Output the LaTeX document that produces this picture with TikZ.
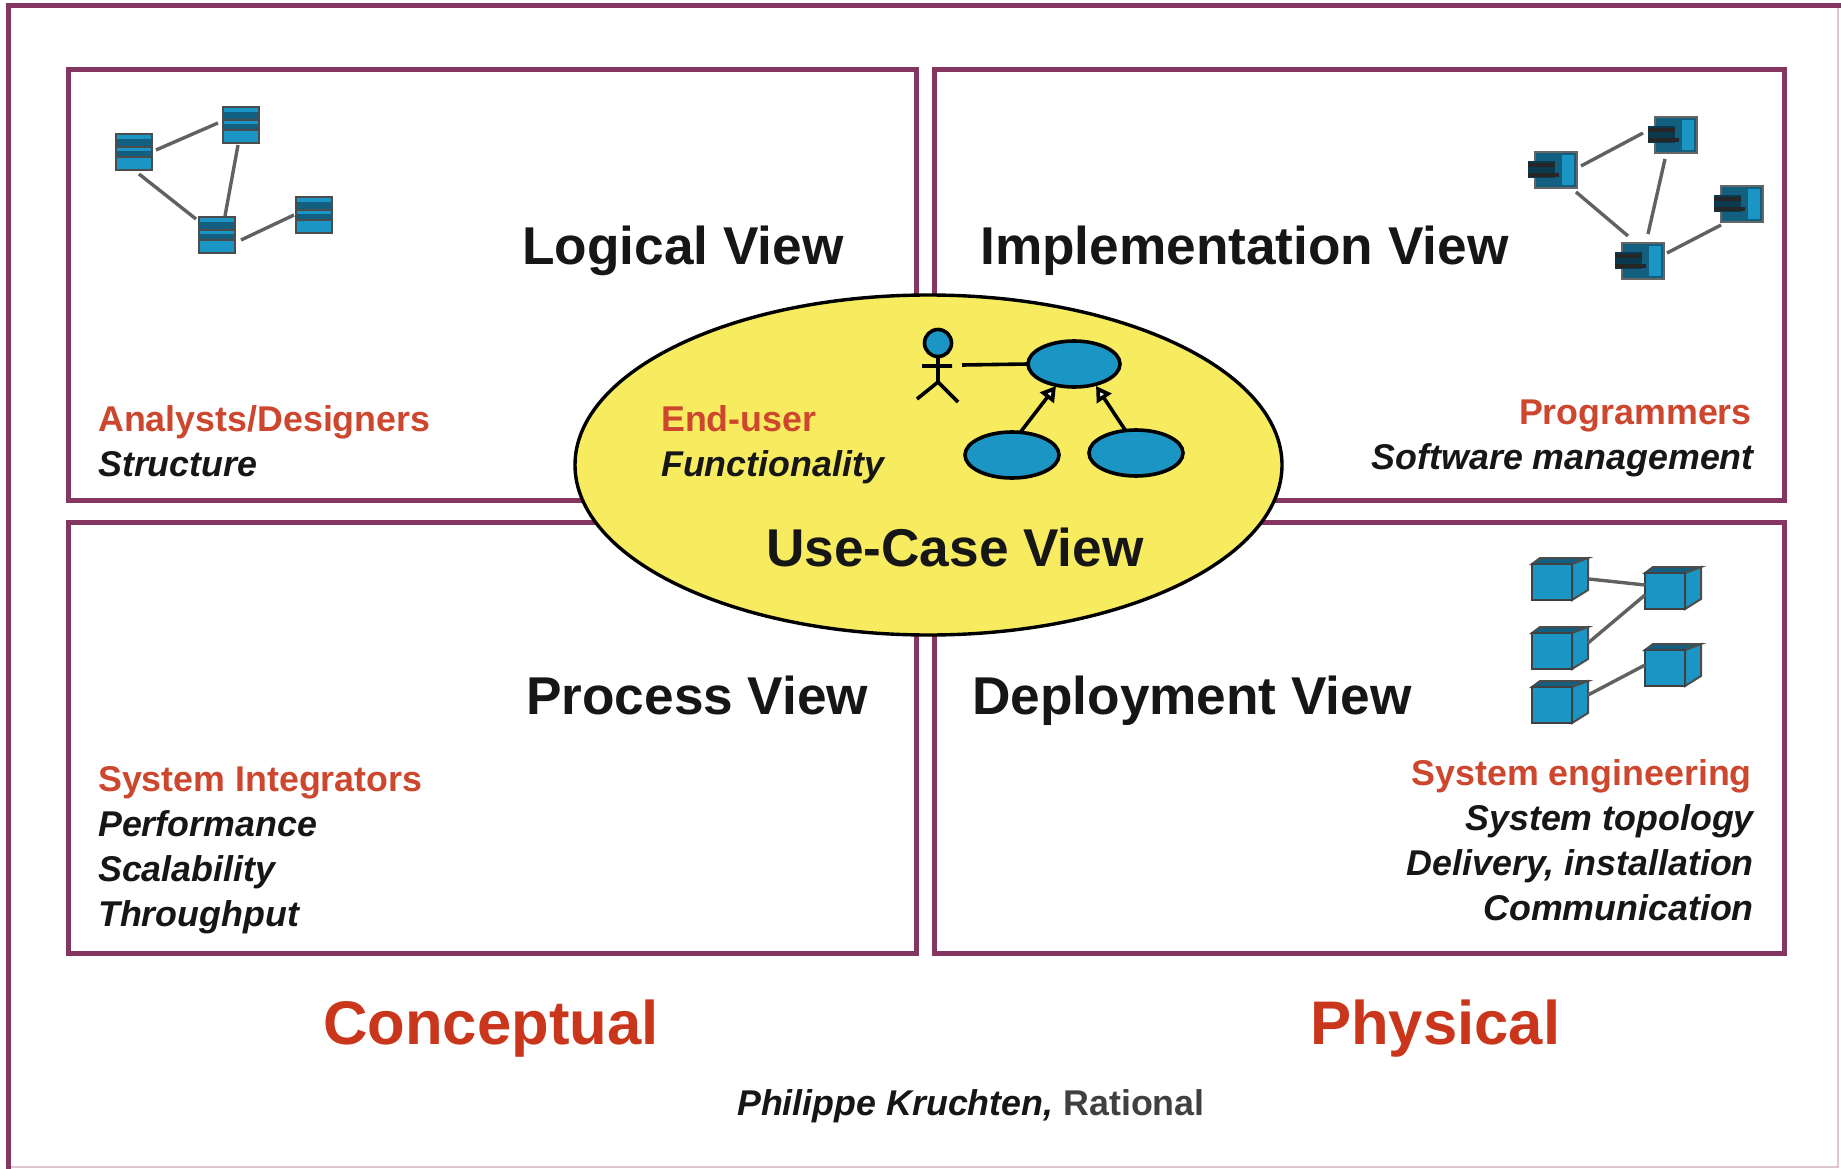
\documentclass[tikz,border=0pt]{standalone}
\usepackage{fontspec}
\setmainfont{Liberation Sans}
\usetikzlibrary{arrows.meta,calc,shapes.geometric}
\definecolor{frame}{HTML}{843560}
\definecolor{icon}{HTML}{1B95C3}
\definecolor{icond}{HTML}{125F80}
\definecolor{hot}{HTML}{C9361C}
\definecolor{lemon}{HTML}{F7EB60}
\definecolor{ink}{HTML}{161616}
\tikzset{
  x=1pt,y=-1pt,
  viewbox/.style={draw=frame,line width=5pt,fill=white},
  viewtitle/.style={anchor=base west,inner sep=0pt,font=\bfseries\fontsize{53.2}{60}\selectfont,text=ink},
  who/.style={anchor=base west,inner sep=0pt,font=\bfseries\fontsize{35.8}{40}\selectfont,text=hot!92!white},
  whor/.style={who,anchor=base east},
  what/.style={anchor=base west,inner sep=0pt,font=\bfseries\itshape\fontsize{35.8}{40}\selectfont,text=ink},
  whatr/.style={what,anchor=base east},
  big/.style={anchor=base west,inner sep=0pt,font=\bfseries\fontsize{61.6}{70}\selectfont,text=hot},
  link/.style={draw=black!62,line width=3.4pt},
  classbox/.style={draw=black!70,line width=2.5pt,fill=icon,minimum width=36pt,minimum height=36pt,inner sep=0pt,outer sep=0pt},
  compbox/.style={draw=black!60,line width=2pt,fill=icond,minimum width=42pt,minimum height=36pt,inner sep=0pt,outer sep=0pt},
  ucase/.style={draw=black,line width=3.6pt,fill=icon,ellipse,inner sep=0pt,outer sep=0pt},
  uml/.style={draw=black,line width=3.6pt},
  genarrow/.style={uml,-{Triangle[open,fill=white,length=15pt,width=17pt,line width=5pt]}},
}
\newcommand{\classicon}[3]{%
  \node[classbox] (#1) at (#2,#3) {};
  \fill[icond] ($(#1.north west)+(1,5)$) rectangle ($(#1.north east)+(-1,12)$);
  \fill[icond] ($(#1.north west)+(1,17)$) rectangle ($(#1.north east)+(-1,23)$);
  \draw[black!70,line width=1.4pt] ($(#1.west)+(0,-5)$) -- ($(#1.east)+(0,-5)$);
  \draw[black!70,line width=1.4pt] ($(#1.west)+(0,5)$) -- ($(#1.east)+(0,5)$);
}
\newcommand{\compicon}[3]{%
  \node[compbox] (#1) at (#2,#3) {};
  \fill[icon] ($(#1.north east)+(-15,3)$) rectangle ($(#1.south east)+(-3,-3)$);
  \fill[icond!60!black] ($(#1.west)+(-7,-9)$) rectangle ($(#1.west)+(20,8)$);
  \fill[black!85] ($(#1.west)+(-7,-7)$) rectangle ($(#1.west)+(20,-3)$);
  \fill[black!85] ($(#1.west)+(-7,3)$) rectangle ($(#1.west)+(24,7)$);
}
\newcommand{\cubeicon}[3]{%
  \node[inner sep=0pt,outer sep=0pt,minimum width=40pt,minimum height=36pt] (#1) at (#2,#3) {};
  \filldraw[draw=black!70,line width=2pt,fill=icond] (#1.north west) -- ++(8,-6) -- ($(#1.north east)+(16,-6)$) -- (#1.north east) -- cycle;
  \filldraw[draw=black!70,line width=2pt,fill=icon] (#1.north east) -- ($(#1.north east)+(16,-6)$) -- ($(#1.south east)+(16,-10)$) -- (#1.south east) -- cycle;
  \filldraw[draw=black!75,line width=2.4pt,fill=icon] (#1.south west) rectangle (#1.north east);
}
\begin{document}
\begin{tikzpicture}
\useasboundingbox (0,0) rectangle (1841,1169);
\fill[white] (0,0) rectangle (1841,1169);
% outer frame
\draw[frame!28,line width=2pt] (1838,4) -- (1838,1167) -- (8,1167);
\draw[frame,line width=5pt] (1841,6) -- (8,6) -- (8,1169);
% view boxes
\node[viewbox,minimum width=848pt,minimum height=430pt,inner sep=0pt] (lv) at (492,285) {};
\node[viewbox,minimum width=850pt,minimum height=430pt,inner sep=0pt] (iv) at (1359,285) {};
\node[viewbox,minimum width=848pt,minimum height=431pt,inner sep=0pt] (pv) at (492,738) {};
\node[viewbox,minimum width=850pt,minimum height=431pt,inner sep=0pt] (dv) at (1359,738) {};
% central ellipse
\node[ellipse,draw=black,line width=3.4pt,fill=lemon,minimum width=707pt,minimum height=340pt,inner sep=0pt] (uc) at (928.5,465) {};
% logical icons
\classicon{la}{134}{152}
\classicon{lb}{241}{125}
\classicon{lc}{217}{235}
\classicon{ld}{314}{215}
\draw[link] ($(la)+(22,-2)$) -- ($(lb)+(-23,-2)$);
\draw[link] ($(la)+(5,22)$) -- ($(lc)+(-21,-16)$);
\draw[link] ($(lb)+(-3,20)$) -- ($(lc)+(8,-19)$);
\draw[link] ($(lc)+(24,5)$) -- ($(ld)+(-20,0)$);
% implementation icons
\compicon{ia}{1556}{170}
\compicon{ib}{1676}{135}
\compicon{ic}{1643}{261}
\compicon{id}{1742}{204}
\draw[link] ($(ia)+(25,-4)$) -- ($(ib)+(-33,-2)$);
\draw[link] ($(ia)+(20,22)$) -- ($(ic)+(-15,-25)$);
\draw[link] ($(ib)+(-11,24)$) -- ($(ic)+(5,-27)$);
\draw[link] ($(ic)+(24,-8)$) -- ($(id)+(-21,21)$);
% deployment icons
\cubeicon{da}{1552}{582}
\cubeicon{db}{1665}{591}
\cubeicon{dc}{1552}{651}
\cubeicon{dd}{1552}{705}
\cubeicon{de}{1665}{668}
\draw[link] ($(da.east)+(17,-3)$) -- ($(db.west)+(0,-6)$);
\draw[link] ($(dc.east)+(16,-8)$) -- ($(db.west)+(0,4)$);
\draw[link] ($(dd.east)+(16,-10)$) -- ($(de.west)+(0,-3)$);
% use-case icons
\node[ucase,minimum width=92pt,minimum height=46pt] (ua) at (1074,364) {};
\node[ucase,minimum width=94pt,minimum height=46pt] (ub) at (1012,455) {};
\node[ucase,minimum width=94pt,minimum height=46pt] (uc2) at (1136,453) {};
\node[circle,uml,fill=icon,minimum size=27pt,inner sep=0pt,outer sep=0pt] (actor) at (938,343) {};
\coordinate (hip) at (938,382);
\coordinate (armL) at (922,366);
\coordinate (armR) at (952,366);
\coordinate (legL) at (917,399);
\coordinate (legR) at (958,402);
\coordinate (assoc) at (962,365);
\draw[uml] (actor) -- (hip) (armL) -- (armR) (legL) -- (hip) -- (legR);
\draw[uml] (assoc) -- (ua.west);
\draw[genarrow] (ub.70) -- ($(ua.south)+(-18,-1)$);
\draw[genarrow] (uc2.115) -- ($(ua.south)+(22,-1)$);
% titles
\node[viewtitle] (t1) at (522,264) {Logical View};
\node[viewtitle] (t2) at (980,264) {Implementation View};
\node[viewtitle] (t3) at (526,714) {Process View};
\node[viewtitle] (t4) at (972,714) {Deployment View};
\node[viewtitle] (t5) at (766,566) {Use-Case View};
% roles
\node[who] (a1) at (98,431) {Analysts/Designers};
\node[what] (a2) at (98,476) {Structure};
\node[who] (b1) at (661,431) {End-user};
\node[what] (b2) at (661,476) {Functionality};
\node[whor] (c1) at (1752,424) {Programmers};
\node[whatr] (c2) at (1754,469) {Software management};
\node[who] (d1) at (98,791) {System Integrators};
\node[what] (d2) at (98,836) {Performance};
\node[what] (d3) at (98,881) {Scalability};
\node[what] (d4) at (98,926) {Throughput};
\node[whor] (e1) at (1752,785) {System engineering};
\node[whatr] (e2) at (1754,830) {System topology};
\node[whatr] (e3) at (1754,875) {Delivery, installation};
\node[whatr] (e4) at (1754,920) {Communication};
\node[big] (f1) at (323,1044) {Conceptual};
\node[big] (f2) at (1310,1044) {Physical};
\node[anchor=base west,inner sep=0pt,font=\bfseries\fontsize{35.8}{40}\selectfont,text=ink] (g) at (737,1115) {\itshape Philippe Kruchten, \upshape\color{black!75}Rational};
\end{tikzpicture}
\end{document}
